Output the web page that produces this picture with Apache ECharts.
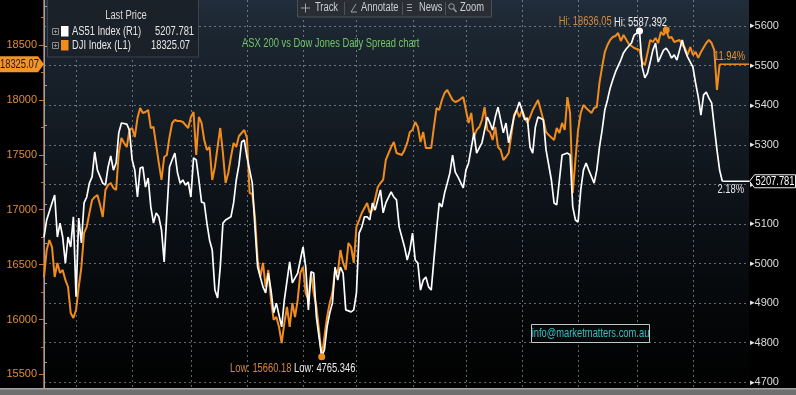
<!DOCTYPE html>
<html><head><meta charset="utf-8">
<script src="https://cdn.jsdelivr.net/npm/echarts@6/dist/echarts.min.js"></script>
<style>
html,body{margin:0;padding:0;background:#000;}
#c{width:796px;height:395px;
  background: linear-gradient(to bottom, #212d3a 0%, #1b2530 10%, #0e141a 48%, #030405 88%, #010101 100%) 44px 0 / 705px 388px no-repeat, #000;}
</style>
</head><body><div id="c"></div>
<script>
// ---------- data ----------
const asxName = 'AS51 Index (R1)';
const djiName = 'DJI Index (L1)';
const legendTitle = 'Last Price';
const titleText = 'ASX 200 vs Dow Jones Daily Spread chart';
const contactText = 'info@marketmatters.com.au';
const toolbarItems = ['Track', 'Annotate', 'News', 'Zoom'];
// [trading day, value]
const djiData = [[0,16387],[1,16633],[2,16724],[3,16660],[4,16387],[5,16515],[6,16424],[7,16451],[8,16360],[9,16296],[10,16059],[11,16014],[12,16087],[13,16296],[14,16478],[15,16788],[16,16843],[17,16970],[18,17088],[19,17116],[20,17134],[21,17043],[22,16934],[23,17180],[24,17225],[25,17243],[26,17198],[27,17180],[28,17516],[29,17653],[30,17608],[31,17571],[32,17726],[33,17744],[34,17662],[35,17835],[36,17926],[37,17881],[38,17890],[39,17908],[40,17744],[41,17753],[42,17589],[43,17425],[44,17271],[45,17480],[46,17498],[47,17662],[48,17790],[49,17817],[50,17808],[51,17808],[52,17799],[54,17744],[55,17844],[56,17890],[57,17498],[58,17844],[59,17790],[60,17635],[61,17544],[62,17571],[63,17271],[64,17389],[65,17571],[66,17744],[67,17516],[68,17243],[69,17334],[70,17480],[71,17608],[72,17571],[73,17671],[75,17726],[76,17653],[77,17152],[78,17143],[79,16934],[80,16542],[81,16387],[82,16515],[83,16296],[84,16451],[85,16178],[86,15996],[87,16023],[88,15932],[89,15786],[90,15968],[91,16114],[92,15932],[93,16150],[94,16023],[95,16178],[96,16424],[97,16478],[98,16241],[99,16178],[100,16424],[101,16241],[102,16114],[103,15904],[104,15660.18],[105,15841],[106,16023],[107,16150],[108,16241],[109,16451],[110,16424],[111,16633],[112,16515],[113,16451],[114,16697],[115,16660],[116,16515],[117,16843],[118,16906],[119,16970],[121,17061],[122,16970],[123,16997],[125,17207],[126,17243],[127,17271],[128,17453],[130,17571],[131,17617],[132,17516],[134,17498],[135,17544],[136,17608],[137,17708],[138,17726],[139,17799],[140,17753],[141,17617],[142,17708],[143,17562],[145,17562],[146,17753],[147,17926],[148,17908],[149,17999],[150,18063],[151,18090],[153,17999],[154,17981],[155,17990],[157,18026],[158,17908],[159,17790],[160,17881],[161,17662],[162,17726],[163,17753],[164,17817],[165,17935],[166,17726],[167,17708],[168,17635],[169,17753],[170,17571],[171,17544],[172,17453],[173,17480],[174,17516],[175,17680],[176,17862],[177,17908],[178,17844],[179,17908],[180,17844],[181,17790],[182,17844],[183,17908],[185,17999],[186,17908],[187,17817],[188,17708],[189,17680],[191,17635],[192,17744],[193,17699],[194,17790],[195,17726],[196,18026],[197,17881],[198,17152],[199,17453],[200,17726],[201,17881],[202,17954],[203,17926],[205,17881],[206,17926],[207,17935],[208,18154],[209,18300],[210,18436],[211,18500],[212,18546],[213,18573],[214,18582],[215,18609],[216,18536],[217,18591],[219,18509],[221,18473],[223,18454],[224,18345],[225,18318],[226,18427],[227,18546],[228,18527],[229,18564],[230,18518],[231,18618],[232,18591],[233,18636.05],[234,18564],[235,18573],[236,18527],[238,18546],[239,18500],[240,18473],[241,18409],[242,18482],[243,18409],[244,18436],[245,18382],[246,18436],[248,18518],[249,18546],[250,18518],[251,18454],[252,18090],[253,18325.07]];
const asxData = [[0,5067],[1,5110],[3,5153],[4,5173],[5,5067],[6,5102],[7,5067],[8,5001],[9,5067],[10,5042],[11,5118],[12,4916],[13,5115],[14,5052],[15,5153],[16,5168],[17,5203],[18,5219],[19,5282],[20,5236],[22,5203],[23,5198],[24,5244],[25,5272],[26,5236],[27,5254],[28,5330],[29,5355],[31,5352],[32,5337],[33,5262],[34,5236],[35,5168],[36,5241],[37,5244],[38,5193],[39,5216],[40,5143],[41,5102],[42,5128],[43,5118],[44,5085],[45,5004],[46,5128],[47,5244],[48,5262],[49,5279],[50,5229],[51,5203],[52,5211],[53,5198],[54,5206],[55,5168],[56,5267],[57,5262],[58,5211],[59,5155],[60,5153],[61,5102],[62,5059],[63,5034],[64,4933],[65,4913],[66,4991],[67,5102],[68,5110],[70,5118],[71,5153],[72,5211],[73,5249],[74,5307],[75,5312],[76,5269],[78,5203],[79,5092],[80,4991],[82,4941],[83,4926],[84,4976],[85,4933],[86,4875],[87,4900],[89,4840],[90,4908],[92,5004],[93,4951],[95,4976],[96,5009],[97,5042],[98,4991],[99,4883],[100,4979],[101,4976],[102,4865],[103,4814],[104,4765.346],[105,4782],[106,4840],[107,4875],[108,4900],[109,4991],[110,4958],[111,4991],[112,4976],[113,4883],[115,4878],[116,4883],[117,4926],[118,5077],[119,5092],[120,5118],[121,5118],[122,5110],[123,5153],[124,5135],[125,5161],[126,5186],[127,5128],[128,5153],[130,5181],[131,5168],[132,5161],[133,5092],[135,5042],[136,5009],[137,5034],[138,5077],[139,5009],[140,5001],[141,4933],[142,4958],[143,4966],[144,4941],[145,4933],[146,5009],[147,5085],[148,5153],[149,5143],[150,5178],[151,5203],[152,5229],[153,5274],[154,5231],[155,5219],[157,5191],[158,5236],[159,5254],[161,5330],[162,5279],[163,5292],[164,5305],[166,5370],[167,5355],[168,5337],[169,5370],[170,5395],[171,5363],[172,5330],[173,5355],[174,5305],[176,5370],[177,5388],[178,5408],[179,5388],[180,5363],[181,5368],[182,5294],[183,5279],[184,5345],[185,5370],[187,5363],[188,5287],[190,5211],[191,5153],[192,5148],[193,5211],[194,5274],[196,5279],[197,5274],[198,5143],[199,5110],[200,5105],[201,5186],[202,5236],[203,5254],[204,5236],[206,5203],[207,5236],[208,5294],[209,5337],[210,5388],[211,5413],[212,5443],[213,5464],[214,5484],[216,5514],[217,5532],[218,5542],[220,5557],[221,5577],[223,5587.392],[224,5496],[225,5469],[226,5481],[227,5509],[228,5539],[229,5557],[230,5509],[232,5539],[233,5544],[234,5534],[235,5519],[236,5527],[237,5514],[238,5539],[239,5565],[240,5539],[241,5522],[243,5496],[244,5456],[245,5421],[246,5375],[247,5426],[248,5433],[249,5418],[250,5406],[251,5345],[252,5287],[253,5236],[254,5207.781]];
const djiLast = 18325.07;
const asxLast = 5207.781;
const djiChange = '11.94%';
const asxChange = '2.18%';
const endDay = 264;                 // right edge of the time axis
const monthStarts = [12, 33, 55, 76, 97, 117, 138, 158, 179, 200, 222, 243];
const leftAxisRange = [15000, 19000, 500];
const rightAxisRange = [4600, 5700, 100];

// ---------- chart ----------
const FONT = '"Liberation Sans", Arial, sans-serif';
const ORANGE = '#f08c1e';
const SX = 0.78; // condensed look of the terminal font
const GRID_COLOR = 'rgba(160,170,182,0.6)';
const gridLine = { color: GRID_COLOR, width: 1, type: [2, 3] };
const lastDjiDay = djiData[djiData.length - 1][0];
const lastAsxDay = asxData[asxData.length - 1][0];
const chart = echarts.init(document.getElementById('c'));

function stxt(x, y, text, fill, opt) {
  opt = opt || {};
  const al = opt.align || 'left';
  return { type: 'text', x: x, y: y, scaleX: opt.sx || SX, z: opt.z || 62, silent: true,
    style: { x: 0, y: 0, text: text, fill: fill, font: (opt.size || 12) + 'px ' + (opt.font || FONT),
      align: al, textAlign: al, verticalAlign: 'middle', textVerticalAlign: 'middle' } };
}
function seg(x1, y1, x2, y2, c, w) {
  return { type: 'line', z: 62, silent: true, shape: { x1: x1, y1: y1, x2: x2, y2: y2 }, style: { stroke: c, lineWidth: w || 1 } };
}
function plusBox(x, y) {
  return [
    { type: 'rect', z: 62, silent: true, shape: { x: x, y: y, width: 6, height: 6 }, style: { fill: 'none', stroke: '#8a8a8a' } },
    seg(x + 1.5, y + 3, x + 4.5, y + 3, '#8a8a8a'), seg(x + 3, y + 1.5, x + 3, y + 4.5, '#8a8a8a')
  ];
}

const baseGraphic = [
  // bottom scroll band
  { type: 'rect', z: 70, silent: true, shape: { x: 0, y: 388, width: 796, height: 7 }, style: { fill: '#6f6f6f' } },
  { type: 'rect', z: 71, silent: true, shape: { x: 0, y: 388, width: 796, height: 1.5 }, style: { fill: '#a3a3a3' } },
  // title
  stxt(242, 44, titleText, '#72c46a'),
  // toolbar
  { type: 'rect', z: 60, silent: true, shape: { x: 297.5, y: -1, width: 194, height: 18 }, style: { fill: '#2a2e34', stroke: '#4b5058', lineWidth: 1 } },
  seg(305.5, 3.5, 305.5, 12.5, '#9aa1a9'), seg(301, 8, 310, 8, '#9aa1a9'),
  stxt(315, 8, toolbarItems[0], '#c9ced4'),
  seg(344.5, 2, 344.5, 15, '#4e535a'),
  seg(351, 12, 356, 4, '#9aa1a9'), seg(351, 12, 357, 12, '#9aa1a9'),
  stxt(361, 8, toolbarItems[1], '#c9ced4'),
  seg(402.5, 2, 402.5, 15, '#4e535a'),
  seg(407, 4.5, 412, 4.5, '#9aa1a9'), seg(407, 7.5, 412, 7.5, '#9aa1a9'), seg(407, 10.5, 412, 10.5, '#9aa1a9'),
  stxt(419, 8, toolbarItems[2], '#c9ced4'),
  seg(445.5, 2, 445.5, 15, '#4e535a'),
  { type: 'circle', z: 62, silent: true, shape: { cx: 451.5, cy: 6.5, r: 2.8 }, style: { fill: 'none', stroke: '#9aa1a9', lineWidth: 1 } },
  seg(453.5, 8.5, 456.5, 12, '#9aa1a9', 1.3),
  stxt(460, 8, toolbarItems[3], '#c9ced4'),
  // legend box
  { type: 'rect', z: 55, silent: true, shape: { x: 47.5, y: -1, width: 151, height: 58 }, style: { fill: '#1b2129', stroke: '#3c434c', lineWidth: 1 } }
].concat(plusBox(52.5, 28.5), plusBox(52.5, 42.5), [
  stxt(126, 16, legendTitle, '#d8d8d8', { align: 'center' }),
  { type: 'rect', z: 62, silent: true, shape: { x: 61, y: 26, width: 7.5, height: 10.5 }, style: { fill: '#ffffff' } },
  { type: 'rect', z: 62, silent: true, shape: { x: 61, y: 40, width: 7.5, height: 10.5 }, style: { fill: ORANGE } },
  stxt(72, 31.5, asxName, '#e6e6e6'),
  stxt(155, 31.5, asxLast.toFixed(3), '#e6e6e6'),
  stxt(72, 45.5, djiName, '#e6e6e6'),
  stxt(151, 45.5, djiLast.toFixed(2), '#e6e6e6'),
  // contact box
  { type: 'rect', z: 55, silent: true, shape: { x: 531.5, y: 324.5, width: 118, height: 18 }, style: { fill: '#050708', stroke: '#c2c8c8', lineWidth: 1 } },
  stxt(590.5, 333.5, contactText, '#35c2c2', { align: 'center' })
]);

// month separators drawn as dotted columns through the time axis
function renderMonthLine(params, api) {
  const x = Math.round(api.coord([api.value(0), rightAxisRange[0]])[0]);
  const dots = [];
  for (let y = 0; y < 388; y += 5) {
    dots.push({ type: 'rect', shape: { x: x, y: y, width: 1, height: 2 }, style: { fill: GRID_COLOR } });
  }
  return { type: 'group', children: dots };
}

const option = {
  animation: false,
  backgroundColor: 'transparent',
  textStyle: { fontFamily: FONT },
  grid: [
    { left: 44, right: 47, top: -9.9, bottom: -34.3, outerBoundsMode: 'none', containLabel: false },
    { left: 44, right: 47, top: -13.6, bottom: -26.9, outerBoundsMode: 'none', containLabel: false }
  ],
  xAxis: [
    { type: 'value', gridIndex: 0, min: 0, max: endDay, show: false },
    { type: 'value', gridIndex: 1, min: 0, max: endDay, show: false }
  ],
  yAxis: [
    { type: 'value', gridIndex: 0, position: 'left', min: leftAxisRange[0], max: leftAxisRange[1], interval: leftAxisRange[2],
      axisLine: { show: true, lineStyle: { color: '#c9792b', width: 1.5 } },
      axisTick: { show: true, length: 5, lineStyle: { color: '#c9792b' } },
      minorTick: { show: true, splitNumber: 2, length: 3, lineStyle: { color: '#c9792b' } },
      axisLabel: { color: '#e08c34', fontSize: 11, margin: 7, fontFamily: FONT, formatter: function (v) { return String(v); } },
      splitLine: { show: false } },
    { type: 'value', gridIndex: 1, position: 'right', min: rightAxisRange[0], max: rightAxisRange[1], interval: rightAxisRange[2],
      axisLine: { show: true, lineStyle: { color: '#a0a0a0' } },
      axisTick: { show: false },
      minorTick: { show: true, splitNumber: 2, length: 3, lineStyle: { color: '#a0a0a0' } },
      axisLabel: { margin: 1, formatter: function (v) { return '{t|\u25B8}{v|' + v + '}'; },
        rich: { t: { fontSize: 9, color: '#e8e8e8', fontFamily: 'DejaVu Sans' }, v: { fontSize: 11, color: '#dcdcdc', fontFamily: FONT } } },
      splitLine: { show: true, lineStyle: gridLine } }
  ],
  graphic: baseGraphic,
  series: [
    { name: 'monthLines', type: 'custom', xAxisIndex: 1, yAxisIndex: 1, z: 2, silent: true, clip: false,
      data: monthStarts.map(function (d) { return [d, rightAxisRange[0]]; }),
      encode: { x: 0, y: 1 }, renderItem: renderMonthLine },
    { name: djiName, type: 'line', xAxisIndex: 0, yAxisIndex: 0, data: djiData, showSymbol: false, symbol: 'none',
      lineStyle: { color: ORANGE, width: 2 }, itemStyle: { color: ORANGE }, z: 3,
      markPoint: { symbol: 'circle', symbolSize: 7, itemStyle: { color: ORANGE }, label: { show: false },
        data: [ { type: 'max', valueDim: 'y' }, { type: 'min', valueDim: 'y' } ] } },
    { name: asxName, type: 'line', xAxisIndex: 1, yAxisIndex: 1, data: asxData, showSymbol: false, symbol: 'none',
      lineStyle: { color: '#ffffff', width: 1.7 }, itemStyle: { color: '#ffffff' }, z: 4,
      markPoint: { symbol: 'circle', symbolSize: 7, itemStyle: { color: '#ffffff' }, label: { show: false },
        data: [ { type: 'max', valueDim: 'y' } ] } },
    { name: 'djiLastLine', type: 'line', xAxisIndex: 0, yAxisIndex: 0, silent: true, z: 3,
      data: [[lastDjiDay, djiLast], [endDay, djiLast]], showSymbol: false, symbol: 'none',
      lineStyle: { color: ORANGE, width: 1.5 } },
    { name: 'asxLastLine', type: 'line', xAxisIndex: 1, yAxisIndex: 1, silent: true, z: 4,
      data: [[lastAsxDay, asxLast], [endDay, asxLast]], showSymbol: false, symbol: 'none',
      lineStyle: { color: '#ffffff', width: 1.5 } }
  ]
};
chart.setOption(option);

// ---------- annotations positioned through the axes ----------
function extreme(data, cmp) { return data.reduce(function (a, b) { return cmp(b[1], a[1]) ? b : a; }); }
const P0 = function (pt) { return chart.convertToPixel({ xAxisIndex: 0, yAxisIndex: 0 }, pt); };
const P1 = function (pt) { return chart.convertToPixel({ xAxisIndex: 1, yAxisIndex: 1 }, pt); };
const djiHi = extreme(djiData, function (a, b) { return a > b; });
const djiLo = extreme(djiData, function (a, b) { return a < b; });
const asxHi = extreme(asxData, function (a, b) { return a > b; });
const asxLo = extreme(asxData, function (a, b) { return a < b; });
const pDH = P0(djiHi), pDL = P0(djiLo), pAH = P1(asxHi), pAL = P1(asxLo);
const pDT = P0([0, djiLast]), pDE = P0([endDay, djiLast]);
const pAE = P1([endDay, asxLast]);
const ann = [
  stxt(pDH[0] - 81, pDH[1] - 8, 'Hi: ' + djiHi[1].toFixed(2), '#d08a40', { align: 'center' }),
  stxt(pAH[0] + 1, pAH[1] - 8, 'Hi: ' + asxHi[1].toFixed(3), '#ececec', { align: 'center' }),
  stxt(pDL[0] - 61, pDL[1] + 12, 'Low: ' + djiLo[1].toFixed(2), '#d08a40', { align: 'center' }),
  stxt(pAL[0] + 3, pAL[1] + 12, 'Low: ' + asxLo[1].toFixed(3), '#ececec', { align: 'center' }),
  stxt(pDE[0] - 4, pDE[1] - 8, djiChange, '#e8922e', { align: 'right' }),
  stxt(pAE[0] - 5, pAE[1] + 8, asxChange, '#e6e6e6', { align: 'right' }),
  { type: 'polygon', z: 63, silent: true, shape: { points: [[0, pDT[1] - 8], [38, pDT[1] - 8], [44, pDT[1]], [38, pDT[1] + 8], [0, pDT[1] + 8]] }, style: { fill: '#f0952c' } },
  stxt(19.5, pDT[1], djiLast.toFixed(2), '#2a1600', { align: 'center', z: 64 }),
  { type: 'polygon', z: 63, silent: true, shape: { points: [[pAE[0] + 0.5, pAE[1]], [pAE[0] + 5.5, pAE[1] - 6.5], [795.5, pAE[1] - 6.5], [795.5, pAE[1] + 6.5], [pAE[0] + 5.5, pAE[1] + 6.5]] }, style: { fill: '#000', stroke: '#f0f0f0', lineWidth: 1 } },
  stxt(775, pAE[1], asxLast.toFixed(3), '#ffffff', { align: 'center', z: 64 })
];
chart.setOption({ graphic: baseGraphic.concat(ann) });
</script>
</body></html>
